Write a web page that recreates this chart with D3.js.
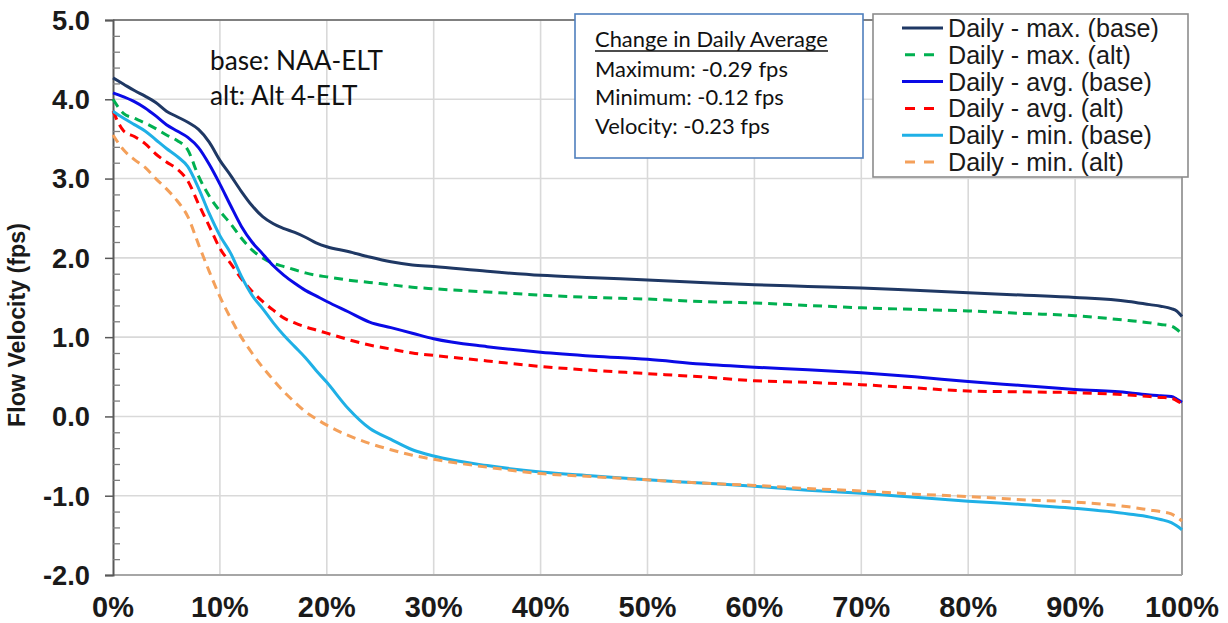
<!DOCTYPE html>
<html>
<head>
<meta charset="utf-8">
<script src="https://cdn.jsdelivr.net/npm/d3@7"></script>
<style>
  html, body { margin: 0; padding: 0; background: #fff; }
  svg { display: block; }
</style>
</head>
<body>
<svg id="chart" width="1228" height="623"></svg>
<script>
// ---------- DATA ----------
const pct = [0,1,2,3,4,5,6,7,8,9,10,11,12,13,14,15,16,17,18,19,20,22,24,26,28,30,35,40,45,50,55,60,65,70,75,80,85,90,95,97,98,99,99.5,100];
const maxBase = [4.27,4.19,4.11,4.04,3.96,3.85,3.78,3.71,3.62,3.46,3.23,3.04,2.84,2.66,2.52,2.43,2.37,2.32,2.26,2.19,2.14,2.08,2.01,1.95,1.91,1.89,1.83,1.78,1.75,1.72,1.69,1.66,1.64,1.62,1.59,1.56,1.53,1.50,1.45,1.41,1.39,1.36,1.33,1.26];
const maxAlt  = [4.00,3.82,3.76,3.70,3.63,3.55,3.48,3.36,3.03,2.78,2.59,2.43,2.25,2.10,2.00,1.93,1.89,1.85,1.81,1.78,1.76,1.72,1.69,1.66,1.63,1.61,1.57,1.53,1.50,1.48,1.45,1.43,1.40,1.37,1.35,1.33,1.30,1.27,1.21,1.18,1.16,1.14,1.10,1.04];
const avgBase = [4.08,4.03,3.97,3.89,3.79,3.68,3.60,3.52,3.39,3.18,2.93,2.66,2.40,2.20,2.05,1.90,1.78,1.68,1.59,1.52,1.45,1.32,1.19,1.12,1.05,0.98,0.88,0.81,0.76,0.72,0.66,0.62,0.59,0.55,0.50,0.44,0.39,0.34,0.30,0.27,0.26,0.25,0.22,0.18];
const avgAlt  = [3.85,3.60,3.53,3.44,3.31,3.21,3.12,2.97,2.68,2.40,2.12,1.93,1.74,1.58,1.45,1.34,1.24,1.18,1.13,1.09,1.05,0.97,0.90,0.85,0.80,0.77,0.70,0.63,0.58,0.54,0.50,0.45,0.43,0.40,0.36,0.32,0.31,0.30,0.27,0.25,0.24,0.23,0.20,0.16];
const minBase = [3.85,3.76,3.68,3.60,3.49,3.38,3.28,3.15,2.88,2.56,2.28,2.06,1.77,1.53,1.36,1.18,1.02,0.88,0.74,0.58,0.43,0.10,-0.15,-0.29,-0.42,-0.50,-0.62,-0.70,-0.75,-0.80,-0.84,-0.88,-0.93,-0.97,-1.02,-1.07,-1.11,-1.16,-1.23,-1.27,-1.30,-1.34,-1.38,-1.43];
const minAlt  = [3.55,3.36,3.24,3.14,3.00,2.87,2.72,2.52,2.17,1.83,1.51,1.24,1.00,0.80,0.62,0.46,0.31,0.18,0.06,-0.03,-0.11,-0.24,-0.34,-0.42,-0.49,-0.54,-0.64,-0.72,-0.76,-0.80,-0.84,-0.87,-0.91,-0.94,-0.98,-1.01,-1.05,-1.08,-1.14,-1.18,-1.20,-1.23,-1.27,-1.32];

const seriesNames = ["Daily - max. (base)","Daily - max. (alt)","Daily - avg. (base)","Daily - avg. (alt)","Daily - min. (base)","Daily - min. (alt)"];
const seriesValues = [maxBase, maxAlt, avgBase, avgAlt, minBase, minAlt];
const seriesColors = ["#1f3864","#00b050","#0a0ae6","#ff0000","#1fb0e6","#f4a05a"];
const seriesDashed = [false, true, false, true, false, true];

const yTicks = [-2,-1,0,1,2,3,4,5];
const xTicks = [0,10,20,30,40,50,60,70,80,90,100];
const yTitle = "Flow Velocity (fps)";
const noteLines = ["base: NAA-ELT", "alt: Alt 4-ELT"];
const boxTitle = "Change in Daily Average";
const boxLines = ["Maximum: -0.29 fps", "Minimum: -0.12 fps", "Velocity: -0.23 fps"];

// ---------- LAYOUT ----------
const svg = d3.select("#chart");
const L = 113, R = 1182, T = 20, B = 575;
const x = d3.scaleLinear().domain([0,100]).range([L,R]);
const y = d3.scaleLinear().domain([-2,5]).range([B,T]);

function fitSize(sel, target) {
  const w = sel.node().getComputedTextLength();
  const fs = parseFloat(sel.attr("font-size"));
  return fs * target / w;
}

// gridlines
const grid = svg.append("g");
grid.selectAll("line.h").data(yTicks).join("line")
  .attr("x1", L).attr("x2", R).attr("y1", d => y(d)).attr("y2", d => y(d))
  .attr("stroke", "#d9d9d9").attr("stroke-width", 1.6);
grid.selectAll("line.v").data(xTicks.slice(1)).join("line")
  .attr("x1", d => x(d)).attr("x2", d => x(d)).attr("y1", T).attr("y2", B)
  .attr("stroke", "#d9d9d9").attr("stroke-width", 1.6);

// plot frame: top, right, bottom
svg.append("line").attr("x1", L).attr("x2", R).attr("y1", T).attr("y2", T).attr("stroke", "#5f5f5f").attr("stroke-width", 1.5);
svg.append("line").attr("x1", R).attr("x2", R).attr("y1", T).attr("y2", B).attr("stroke", "#a0a0a0").attr("stroke-width", 2);
svg.append("line").attr("x1", L).attr("x2", R).attr("y1", B).attr("y2", B).attr("stroke", "#a6a6a6").attr("stroke-width", 2);

// left axis with major (outside) and minor (inside) ticks
const yAxisG = svg.append("g").attr("transform", `translate(${L},0)`)
  .call(d3.axisLeft(y).tickValues(yTicks).tickSize(8).tickFormat(""));
yAxisG.select(".domain").attr("stroke", "#595959").attr("stroke-width", 2);
yAxisG.selectAll(".tick line").attr("stroke", "#595959").attr("stroke-width", 1.5);
const minorTicks = d3.range(-2, 5.001, 0.2).filter(v => Math.abs(v - Math.round(v)) > 1e-6);
const yMinorG = svg.append("g").attr("transform", `translate(${L},0)`)
  .call(d3.axisRight(y).tickValues(minorTicks).tickSize(7).tickFormat(""));
yMinorG.select(".domain").remove();
yMinorG.selectAll(".tick line").attr("stroke", "#7f7f7f").attr("stroke-width", 1.3);

// y tick labels
const yLab = svg.append("g").selectAll("text").data(yTicks).join("text")
  .attr("x", 90).attr("y", d => y(d)).attr("dy", "0.36em")
  .attr("text-anchor", "end")
  .attr("font-family", "Liberation Sans, Arial, sans-serif")
  .attr("font-weight", "bold").attr("font-size", 20).attr("fill", "#1a1a1a")
  .text(d => d.toFixed(1));
const ySize = fitSize(yLab.filter(d => d === 5), 38);
yLab.attr("font-size", ySize);

// x tick labels
const xLab = svg.append("g").selectAll("text").data(xTicks).join("text")
  .attr("x", d => x(d)).attr("y", 617)
  .attr("text-anchor", "middle")
  .attr("font-family", "Liberation Sans, Arial, sans-serif")
  .attr("font-weight", "bold").attr("font-size", 20).attr("fill", "#1a1a1a")
  .text(d => d + "%");
const xSize = fitSize(xLab.filter(d => d === 100), 74);
xLab.attr("font-size", xSize);

// y title
const yt = svg.append("text")
  .attr("transform", `translate(25,325) rotate(-90)`)
  .attr("text-anchor", "middle")
  .attr("font-family", "Liberation Sans, Arial, sans-serif")
  .attr("font-weight", "bold").attr("font-size", 20).attr("fill", "#1a1a1a")
  .text(yTitle);
yt.attr("font-size", fitSize(yt, 204));

// series lines
const line = d3.line().x((d, i) => x(pct[i])).y(d => y(d)).curve(d3.curveMonotoneX);
const linesG = svg.append("g");
seriesValues.forEach((vals, k) => {
  linesG.append("path")
    .datum(vals)
    .attr("d", line)
    .attr("fill", "none")
    .attr("stroke", seriesColors[k])
    .attr("stroke-width", 3)
    .attr("stroke-linejoin", "round")
    .attr("stroke-dasharray", seriesDashed[k] ? "9,6" : null);
});

// note text (base / alt)
const notes = svg.append("g").selectAll("text").data(noteLines).join("text")
  .attr("x", 210).attr("y", (d, i) => 70 + i * 35)
  .attr("font-family", "Lato, 'Open Sans', sans-serif")
  .attr("font-size", 20).attr("fill", "#111")
  .text(d => d);
const nSize = fitSize(notes.filter((d, i) => i === 0), 173);
notes.attr("font-size", nSize);

// change box
svg.append("rect").attr("x", 575).attr("y", 14).attr("width", 288).attr("height", 144)
  .attr("fill", "#fff").attr("stroke", "#4f7fbd").attr("stroke-width", 1.6);
const bt = svg.append("text").attr("x", 595).attr("y", 47)
  .attr("font-family", "Lato, 'Open Sans', sans-serif")
  .attr("font-size", 18).attr("fill", "#111").text(boxTitle);
const bSize = fitSize(bt, 233);
bt.attr("font-size", bSize);
svg.append("line").attr("x1", 595).attr("x2", 595 + 233).attr("y1", 51).attr("y2", 51)
  .attr("stroke", "#111").attr("stroke-width", 1.5);
svg.append("g").selectAll("text").data(boxLines).join("text")
  .attr("x", 595).attr("y", (d, i) => 77 + i * 28.3)
  .attr("font-family", "Lato, 'Open Sans', sans-serif")
  .attr("font-size", bSize).attr("fill", "#111").text(d => d);

// legend
const lg = svg.append("g");
lg.append("rect").attr("x", 873).attr("y", 14).attr("width", 315).attr("height", 163)
  .attr("fill", "#fff").attr("stroke", "#8c8c8c").attr("stroke-width", 1.6);
const rowY = i => 28 + i * 26.8;
seriesNames.forEach((name, k) => {
  lg.append("line").attr("x1", 902).attr("x2", 943).attr("y1", rowY(k)).attr("y2", rowY(k))
    .attr("stroke", seriesColors[k]).attr("stroke-width", 3)
    .attr("stroke-dasharray", seriesDashed[k] ? "10,9" : null)
    .attr("stroke-dashoffset", seriesDashed[k] ? -3 : null);
});
const legT = lg.selectAll("text").data(seriesNames).join("text")
  .attr("x", 948).attr("y", (d, i) => rowY(i)).attr("dy", "0.36em")
  .attr("font-family", "Liberation Sans, Arial, sans-serif")
  .attr("font-size", 20).attr("fill", "#1a1a1a")
  .text(d => d);
legT.attr("font-size", fitSize(legT.filter((d, i) => i === 0), 211));
</script>
</body>
</html>
